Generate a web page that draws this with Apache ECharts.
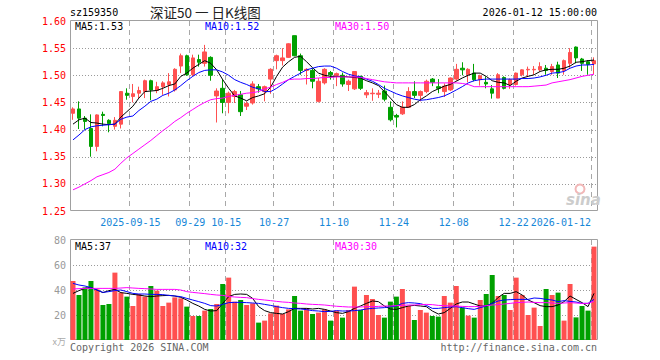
<!DOCTYPE html>
<html><head><meta charset="utf-8">
<script src="https://cdn.jsdelivr.net/npm/echarts@6/dist/echarts.min.js"></script>
<style>html,body{margin:0;padding:0;background:#fff}#c{width:660px;height:360px}</style>
</head><body><div id="c"></div>
<script>
const dates = ("2025-09-01 2025-09-02 2025-09-03 2025-09-04 2025-09-05 2025-09-08 2025-09-09 2025-09-10 2025-09-11 2025-09-12 " +
"2025-09-15 2025-09-16 2025-09-17 2025-09-18 2025-09-19 2025-09-22 2025-09-23 2025-09-24 2025-09-25 2025-09-26 " +
"2025-09-29 2025-09-30 2025-10-09 2025-10-10 2025-10-13 2025-10-14 2025-10-15 2025-10-16 2025-10-17 2025-10-20 " +
"2025-10-21 2025-10-22 2025-10-23 2025-10-24 2025-10-27 2025-10-28 2025-10-29 2025-10-30 2025-10-31 2025-11-03 " +
"2025-11-04 2025-11-05 2025-11-06 2025-11-07 2025-11-10 2025-11-11 2025-11-12 2025-11-13 2025-11-14 2025-11-17 " +
"2025-11-18 2025-11-19 2025-11-20 2025-11-21 2025-11-24 2025-11-25 2025-11-26 2025-11-27 2025-11-28 2025-12-01 " +
"2025-12-02 2025-12-03 2025-12-04 2025-12-05 2025-12-08 2025-12-09 2025-12-10 2025-12-11 2025-12-12 2025-12-15 " +
"2025-12-16 2025-12-17 2025-12-18 2025-12-19 2025-12-22 2025-12-23 2025-12-24 2025-12-25 2025-12-26 2025-12-29 " +
"2025-12-30 2025-12-31 2026-01-05 2026-01-06 2026-01-07 2026-01-08 2026-01-09 2026-01-12").split(" ");

const tickDates  = ["2025-09-15","2025-09-29","2025-10-15","2025-10-27","2025-11-10","2025-11-24","2025-12-08","2025-12-22","2026-01-12"];
const tickLabels = ["2025-09-15","09-29","10-15","10-27","11-10","11-24","12-08","12-22","2026-01-12"];
const priceTicks = [1.25, 1.30, 1.35, 1.40, 1.45, 1.50, 1.55, 1.60];
const volTicks = [0, 20, 40, 60, 80];

const opens = [1.430,1.438,1.421,1.402,1.369,1.428,1.417,1.406,1.410,1.467,
1.461,1.467,1.470,1.490,1.472,1.479,1.483,1.473,1.517,1.536,
1.501,1.529,1.522,1.533,1.462,1.476,1.450,1.461,1.464,1.443,
1.449,1.479,1.470,1.493,1.527,1.527,1.533,1.573,1.536,1.509,
1.509,1.452,1.486,1.505,1.500,1.500,1.483,1.475,1.498,1.464,
1.466,1.465,1.471,1.441,1.426,1.429,1.441,1.470,1.463,1.470,
1.493,1.479,1.470,1.473,1.493,1.513,1.501,1.504,1.492,1.487,
1.475,1.458,1.496,1.483,1.483,1.501,1.510,1.510,1.510,1.513,
1.507,1.519,1.509,1.522,1.552,1.530,1.525,1.521];
const closes = [1.438,1.421,1.415,1.369,1.427,1.426,1.411,1.417,1.470,1.463,
1.466,1.472,1.490,1.473,1.479,1.486,1.488,1.511,1.536,1.501,
1.532,1.524,1.543,1.500,1.471,1.450,1.467,1.470,1.433,1.448,
1.484,1.475,1.479,1.511,1.536,1.532,1.558,1.536,1.509,1.511,
1.489,1.489,1.511,1.501,1.503,1.484,1.489,1.507,1.476,1.468,
1.467,1.467,1.456,1.418,1.423,1.441,1.470,1.463,1.470,1.489,
1.487,1.476,1.480,1.495,1.511,1.510,1.511,1.492,1.499,1.484,
1.467,1.501,1.476,1.492,1.504,1.510,1.511,1.511,1.516,1.509,
1.516,1.504,1.527,1.542,1.532,1.522,1.520,1.527];
const lows = [1.418,1.401,1.400,1.350,1.360,1.406,1.395,1.400,1.402,1.455,
1.450,1.458,1.458,1.454,1.467,1.464,1.461,1.470,1.504,1.499,
1.498,1.516,1.516,1.490,1.413,1.430,1.430,1.449,1.425,1.436,
1.446,1.468,1.452,1.466,1.511,1.518,1.532,1.535,1.501,1.483,
1.476,1.450,1.483,1.492,1.480,1.479,1.471,1.473,1.473,1.458,
1.453,1.458,1.452,1.415,1.404,1.427,1.440,1.458,1.452,1.467,
1.480,1.467,1.460,1.471,1.490,1.500,1.487,1.489,1.481,1.476,
1.457,1.458,1.474,1.475,1.481,1.498,1.498,1.501,1.507,1.501,
1.501,1.495,1.501,1.514,1.522,1.508,1.501,1.502];
const highs = [1.441,1.452,1.425,1.428,1.428,1.433,1.419,1.423,1.471,1.476,
1.484,1.479,1.492,1.492,1.488,1.489,1.504,1.513,1.540,1.538,
1.538,1.538,1.556,1.535,1.476,1.493,1.470,1.473,1.471,1.452,
1.489,1.484,1.481,1.513,1.538,1.550,1.559,1.573,1.540,1.513,
1.513,1.495,1.513,1.508,1.505,1.505,1.492,1.507,1.499,1.473,
1.476,1.473,1.481,1.452,1.429,1.452,1.478,1.489,1.472,1.492,
1.495,1.493,1.485,1.496,1.521,1.524,1.513,1.521,1.501,1.498,
1.482,1.504,1.498,1.494,1.505,1.511,1.516,1.517,1.524,1.519,
1.521,1.525,1.529,1.550,1.553,1.532,1.528,1.533];

const ma5 = [1.410,1.418,1.421,1.413,1.412,1.410,1.409,1.410,1.423,1.433,
1.443,1.458,1.470,1.471,1.472,1.476,1.481,1.484,1.498,1.504,
1.513,1.520,1.527,1.522,1.510,1.492,1.476,1.462,1.458,1.453,
1.459,1.462,1.466,1.478,1.498,1.515,1.525,1.533,1.535,1.525,
1.514,1.504,1.500,1.498,1.498,1.498,1.497,1.496,1.495,1.490,
1.486,1.481,1.470,1.458,1.446,1.441,1.441,1.446,1.455,1.462,
1.470,1.475,1.480,1.483,1.489,1.495,1.500,1.504,1.504,1.498,
1.490,1.487,1.486,1.481,1.489,1.495,1.498,1.501,1.507,1.510,
1.511,1.511,1.513,1.517,1.524,1.525,1.527,1.528];
const ma10 = [1.381,1.390,1.400,1.405,1.407,1.408,1.409,1.410,1.419,1.423,
1.425,1.435,1.443,1.452,1.456,1.463,1.467,1.473,1.481,1.490,
1.498,1.505,1.509,1.510,1.510,1.506,1.500,1.492,1.487,1.483,
1.478,1.475,1.470,1.470,1.476,1.484,1.492,1.498,1.504,1.510,
1.513,1.516,1.517,1.517,1.513,1.507,1.502,1.499,1.497,1.493,
1.489,1.483,1.476,1.471,1.466,1.462,1.459,1.456,1.454,1.455,
1.457,1.459,1.462,1.467,1.473,1.479,1.486,1.490,1.492,1.493,
1.493,1.493,1.493,1.493,1.493,1.494,1.494,1.495,1.497,1.500,
1.504,1.505,1.507,1.513,1.517,1.519,1.519,1.520];
const ma30 = [1.289,1.294,1.300,1.306,1.313,1.317,1.321,1.327,1.338,1.348,
1.356,1.364,1.372,1.380,1.389,1.398,1.406,1.415,1.422,1.430,
1.437,1.444,1.450,1.455,1.457,1.458,1.461,1.463,1.465,1.467,
1.468,1.470,1.475,1.478,1.483,1.487,1.492,1.493,1.493,1.494,
1.494,1.495,1.496,1.496,1.497,1.497,1.497,1.497,1.496,1.494,
1.492,1.490,1.488,1.487,1.486,1.486,1.486,1.486,1.486,1.486,
1.486,1.486,1.486,1.486,1.486,1.485,1.483,1.479,1.479,1.479,
1.479,1.479,1.479,1.479,1.479,1.479,1.479,1.480,1.481,1.482,
1.486,1.488,1.490,1.492,1.495,1.498,1.500,1.502];

const volumes = [47.2,36.0,42.1,47.2,40.5,28.0,28.8,53.9,37.9,34.7,
27.2,36.8,34.7,43.2,39.5,27.2,29.9,34.1,33.3,26.7,
19.2,19.2,23.5,24.8,28.8,44.8,49.9,30.7,32.0,28.0,
29.3,13.9,15.5,21.3,27.5,20.8,24.5,35.2,23.5,25.3,
20.8,21.9,24.5,15.5,23.5,17.9,24.0,42.7,24.0,36.0,
32.8,20.0,17.9,30.7,34.7,40.8,27.2,16.0,24.0,21.9,
19.2,18.7,35.2,29.9,43.2,25.9,19.5,17.9,32.0,36.8,
52.0,35.2,36.0,24.0,49.9,36.0,20.0,25.9,11.2,40.8,
36.0,37.9,15.5,44.8,18.1,27.2,23.5,74.7];
const vma5 = [37.3,39.5,41.3,42.1,40.0,37.9,39.5,40.5,37.9,37.3,
36.5,36.0,35.2,34.7,35.2,35.5,35.7,35.2,34.1,32.0,
29.3,27.2,24.5,23.2,23.5,29.3,34.7,36.5,36.8,36.5,
33.3,26.7,23.5,21.9,21.3,20.8,22.7,25.3,25.3,25.3,
24.8,25.3,24.5,23.2,21.9,21.3,22.7,25.3,27.2,29.3,
31.2,30.7,27.2,24.8,24.5,25.9,27.2,27.7,27.2,26.7,
23.2,20.8,21.9,25.3,28.8,30.4,30.4,28.8,27.2,27.2,
29.3,34.1,37.3,37.3,38.7,36.0,32.0,29.9,27.5,26.7,
26.7,28.0,30.7,35.2,32.5,29.9,26.7,37.3];
const vma10 = [45.3,44.0,43.2,41.9,40.0,38.1,38.7,39.5,40.0,38.7,
37.3,36.8,36.8,36.5,36.5,36.3,35.7,35.2,34.7,33.3,
32.0,30.7,29.3,27.5,27.2,28.5,29.9,30.1,30.1,29.9,
29.6,29.3,28.5,27.7,26.7,25.9,25.3,25.1,24.8,24.3,
23.5,23.2,22.7,22.9,23.5,23.2,23.2,23.5,24.0,24.8,
25.3,25.6,25.9,26.7,27.2,29.3,29.9,29.6,29.1,27.7,
25.3,25.3,25.9,26.4,26.7,25.9,25.1,24.5,25.9,27.2,
29.3,31.2,32.0,32.3,32.5,32.5,32.5,33.6,33.3,32.5,
32.0,30.7,31.5,30.9,30.4,29.3,29.3,32.5];
const vma30 = [40.8,41.1,41.3,41.3,41.3,41.3,41.3,41.3,41.6,41.9,
41.6,41.3,41.1,40.8,40.5,40.5,40.5,40.5,40.0,38.7,
38.1,37.6,37.1,36.5,36.0,35.7,34.9,34.4,34.1,33.9,
33.1,32.5,32.0,31.5,30.9,30.4,30.1,29.6,29.3,28.8,
28.5,28.3,28.0,27.5,27.0,26.7,26.4,26.4,26.4,26.7,
26.7,26.9,27.2,27.2,27.5,27.7,28.0,28.0,28.3,28.5,
28.3,27.7,27.5,27.2,27.2,26.9,26.7,26.7,26.9,27.5,
28.0,28.3,28.8,29.3,29.9,30.1,30.4,30.1,29.9,29.9,
29.6,29.3,29.6,29.9,29.6,29.3,29.3,30.9];

const UP = '#ff5050', DOWN = '#00a000';
const MONO = '"DejaVu Sans Mono", "Liberation Mono", monospace';
const tickIndex = {};
tickDates.forEach((d, k) => { tickIndex[dates.indexOf(d)] = tickLabels[k]; });
const isTick = (i) => tickIndex[i] !== undefined;
const lastIdx = dates.length - 1;

const candleData = opens.map((o, i) => [o, closes[i], lows[i], highs[i]]);
const volData = volumes.map((v, i) => ({ value: v, itemStyle: { color: closes[i] >= opens[i] ? UP : DOWN } }));
const last = a => a[a.length - 1];

const lineS = (name, data, color, xi) => ({
  name, type: 'line', data, xAxisIndex: xi, yAxisIndex: xi, showSymbol: false, symbol: 'none',
  lineStyle: { width: 1, color }, itemStyle: { color }, silent: true, z: 5
});
const txt = (x, y, text, fill, font, align) => ({
  type: 'text', x, y, silent: true, z: 100,
  style: { text, fill, font, align: align || 'left', verticalAlign: 'middle', textAlign: align || 'left', textVerticalAlign: 'middle' }
});

const chart = echarts.init(document.getElementById('c'), null, { renderer: 'svg' });
chart.setOption({
  animation: false,
  backgroundColor: '#fff',
  grid: [
    { left: 70, top: 21, width: 527, height: 190, show: false },
    { left: 70, top: 240, width: 527, height: 100, show: false }
  ],
  xAxis: [
    { type: 'category', gridIndex: 0, data: dates, boundaryGap: true,
      axisLine: { show: false }, axisTick: { show: false }, splitLine: { show: false },
      axisLabel: { interval: (i) => isTick(i),
        formatter: (v, i) => i === lastIdx ? '{e|' + tickIndex[i] + '}' : '{c|' + (tickIndex[i] || '') + '}',
        color: '#1787d8', fontFamily: MONO, fontSize: 10, margin: 6, alignMaxLabel: 'right',
        rich: { c: { padding: [0, 5, 0, 0], color: '#1787d8', fontFamily: MONO, fontSize: 10 },
                e: { padding: [0, 3, 0, 0], color: '#1787d8', fontFamily: MONO, fontSize: 10 } } } },
    { type: 'category', gridIndex: 1, data: dates, boundaryGap: true,
      axisLine: { show: false }, axisTick: { show: false }, axisLabel: { show: false }, splitLine: { show: false } }
  ],
  yAxis: [
    { type: 'value', gridIndex: 0, min: 1.25, max: 1.60, interval: 0.05,
      axisLine: { show: false }, axisTick: { show: false }, splitLine: { show: false },
      axisLabel: { formatter: v => v.toFixed(2), color: '#f00', fontFamily: MONO, fontSize: 10, margin: 4 } },
    { type: 'value', gridIndex: 1, min: 0, max: 80, interval: 20,
      axisLine: { show: false }, axisTick: { show: false }, splitLine: { show: false },
      axisLabel: { formatter: v => v === 0 ? '{u|x万}' : String(v), color: '#999', fontFamily: MONO, fontSize: 10, margin: 4,
        rich: { u: { color: '#aaa', fontSize: 9, fontFamily: '"Noto Sans CJK SC", sans-serif', padding: [3, 0, 0, 0] } } } }
  ],
  series: [
    { type: 'candlestick', xAxisIndex: 0, yAxisIndex: 0, data: candleData, barWidth: 4, silent: true, z: 3,
      itemStyle: { color: UP, color0: DOWN, borderColor: UP, borderColor0: DOWN, borderColorDoji: UP, borderWidth: 1 } },
    lineS('MA5', ma5, '#000000', 0),
    lineS('MA10', ma10, '#0000ff', 0),
    lineS('MA30', ma30, '#ff00ff', 0),
    { type: 'bar', xAxisIndex: 1, yAxisIndex: 1, data: volData, barWidth: 5, silent: true, z: 3 },
    lineS('VMA5', vma5, '#000000', 1),
    lineS('VMA10', vma10, '#0000ff', 1),
    lineS('VMA30', vma30, '#ff00ff', 1)
  ]
});

// Grid lines and frames, positioned through the chart's own axes
const crisp = v => Math.round(v) + 0.5;
const els = [];
for (let g = 0; g < 2; g++) {
  const px = i => chart.convertToPixel({ xAxisIndex: g }, i);
  const band = px(1) - px(0);
  const x0 = px(0) - band / 2, x1 = px(lastIdx) + band / 2;
  const ticks = g === 0 ? priceTicks : volTicks;
  const py = v => chart.convertToPixel({ yAxisIndex: g }, v);
  const yTop = py(ticks[ticks.length - 1]), yBot = py(ticks[0]);
  ticks.slice(1, -1).forEach(v => {
    const y = crisp(py(v));
    els.push({ type: 'line', silent: true, z: 1, shape: { x1: x0, y1: y, x2: x1, y2: y },
      style: { stroke: '#9a9a9a', lineWidth: 1, lineDash: [1, 2] } });
  });
  Object.keys(tickIndex).forEach(k => {
    const x = crisp(px(+k) - band / 2 - 0.5);
    els.push({ type: 'line', silent: true, z: 1, shape: { x1: x, y1: yTop, x2: x, y2: yBot },
      style: { stroke: '#a8a8a8', lineWidth: 1, lineDash: [5, 4] } });
  });
  els.push({ type: 'rect', silent: true, z: 1,
    shape: { x: crisp(x0), y: crisp(yTop - 1), width: Math.round(x1 - x0), height: Math.round(yBot - yTop) },
    style: { fill: null, stroke: '#a0a0a0', lineWidth: 1 } });
}

els.push(
  txt(70, 12, 'sz159350', '#000', '10px ' + MONO),
  txt(150, 12, '深证50 一 日K线图', '#222', '13.5px "Noto Sans CJK SC", sans-serif'),
  txt(597, 12, '2026-01-12 15:00:00', '#000', '10px ' + MONO, 'right'),
  txt(75, 26, 'MA5:' + last(ma5).toFixed(2), '#000', '10px ' + MONO),
  txt(205, 26, 'MA10:' + last(ma10).toFixed(2), '#0000ff', '10px ' + MONO),
  txt(335, 26, 'MA30:' + last(ma30).toFixed(2), '#ff00ff', '10px ' + MONO),
  txt(75, 246, 'MA5:' + Math.floor(last(vma5)), '#000', '10px ' + MONO),
  txt(205, 246, 'MA10:' + Math.floor(last(vma10)), '#0000ff', '10px ' + MONO),
  txt(335, 246, 'MA30:' + Math.floor(last(vma30)), '#ff00ff', '10px ' + MONO),
  txt(70, 347, 'Copyright 2026 SINA.COM', '#666', '10px ' + MONO),
  txt(597, 347, 'http://finance.sina.com.cn', '#666', '10px ' + MONO, 'right'),
  { type: 'circle', shape: { cx: 580, cy: 189, r: 4.5 }, silent: true, z: 1,
    style: { fill: 'none', stroke: '#f2b8b8', lineWidth: 2 } },
  txt(566, 200, 'sina', '#cccccc', 'italic bold 15px "DejaVu Sans", sans-serif')
);
chart.setOption({ graphic: els });
</script></body></html>
